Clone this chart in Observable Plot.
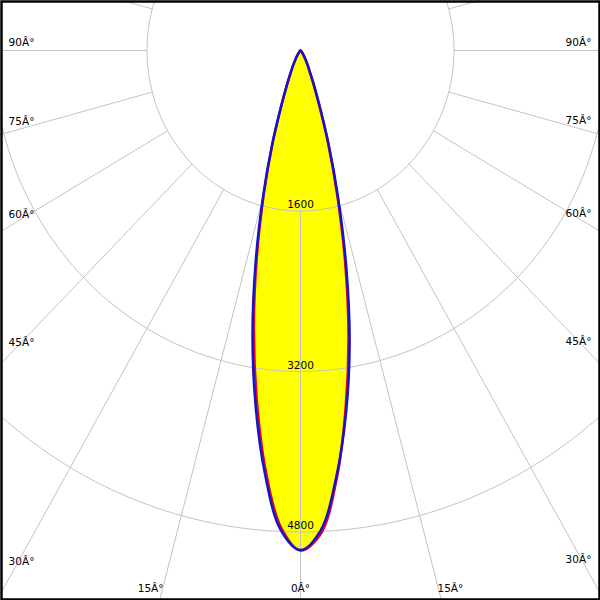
<!DOCTYPE html>
<html>
<head>
<meta charset="utf-8">
<script src="https://cdn.jsdelivr.net/npm/d3@7"></script>
<script src="https://cdn.jsdelivr.net/npm/@observablehq/plot@0.6"></script>
<style>
  html, body { margin: 0; padding: 0; background: white; }
  #chart svg { display: block; }
</style>
</head>
<body>
<div id="chart"></div>
<script>
// ---- data (candela vs. angle from nadir, degrees) ----
const beamAngles = [-50, -45, -40, -35, -30, -27.5, -25, -22.5, -20, -17.5, -15, -12.5, -10, -7.5, -5, -2.5,
                    0, 2.5, 5, 7.5, 10, 12.5, 15, 17.5, 20, 22.5, 25, 27.5, 30, 35, 40, 45, 50];
const blueValues = [0, 8, 25, 58, 115, 170, 245, 370, 590, 985, 1510, 2160, 2880, 3580, 4240, 4780,
                    4980, 4790, 4270, 3640, 2950, 2200, 1510, 960, 560, 345, 220, 160, 110, 55, 25, 8, 0];
const redValues  = [0, 7, 22, 52, 105, 160, 235, 360, 575, 960, 1470, 2100, 2800, 3500, 4190, 4750,
                    4985, 4825, 4300, 3600, 2880, 2140, 1460, 930, 540, 330, 210, 150, 100, 50, 20, 6, 0];
const ringValues = [1600, 3200, 4800];
const spokeAngles = d3.range(0, 360, 15);
const angleLabelValues = [-90, -75, -60, -45, -30, -15, 0, 15, 30, 45, 60, 75, 90];

// ---- geometry helpers (data space: X = I·sinθ, Y = I·cosθ downward) ----
const W = 600, H = 600;
const cx = 300, cy = 50;                    // pole position
const kx = 1600 / 153.5, ky = 1600 / 160.5; // cd per pixel
const rad = d => d * Math.PI / 180;
const toXY = (a, I) => ({X: I * Math.sin(rad(a)), Y: I * Math.cos(rad(a))});

const blue = beamAngles.map((a, i) => toXY(a, blueValues[i]));
const red = beamAngles.map((a, i) => toXY(a, redValues[i]));

const rings = ringValues.flatMap(r => d3.range(0, 361, 2).map(a => ({r, ...toXY(a, r)})));
const spokes = spokeAngles.map(a => {
  const p1 = toXY(a, ringValues[0]), p2 = toXY(a, 12000);
  return {x1: p1.X, y1: p1.Y, x2: p2.X, y2: p2.Y};
});
const ringLabels = ringValues.map(r => ({X: 0, Y: r, text: String(r)}));

const angleLabels = angleLabelValues.map(a => {
  const t = Math.abs(a), s = Math.sign(a) || 0;
  let px, py;
  if (t >= 30) {
    px = s < 0 ? 21 : W - 22;
    const X = (px - cx) * kx;
    const Y = Math.abs(X) / Math.tan(rad(t));
    py = cy + Y / ky + (20.3 - 28.6 * Math.sin(rad(t)));
  } else {
    py = 588;
    const Y = (py - cy) * ky;
    const X = Y * Math.tan(rad(a));
    px = cx + X / kx + s * 12 * Math.sin(rad(t)) / Math.sin(rad(15));
  }
  return {X: (px - cx) * kx, Y: (py - cy) * ky, text: `${t}Â°`};
});

const grid = "#c4c4c4";
const plot = Plot.plot({
  width: W, height: H,
  margin: 0,
  x: {domain: [-cx * kx, (W - cx) * kx], range: [0, W], axis: null},
  y: {domain: [-cy * ky, (H - cy) * ky], range: [0, H], axis: null},
  style: {fontFamily: "DejaVu Sans, sans-serif", fontSize: "10.5px", background: "white"},
  marks: [
    Plot.line(blue, {x: "X", y: "Y", fill: "#ffff00", stroke: "none", curve: "catmull-rom"}),
    Plot.line(rings, {x: "X", y: "Y", z: "r", stroke: grid, strokeWidth: 1, clip: true}),
    Plot.link(spokes, {x1: "x1", y1: "y1", x2: "x2", y2: "y2", stroke: grid, strokeWidth: 1, clip: true}),
    Plot.line(red, {x: "X", y: "Y", stroke: "#e8002a", strokeWidth: 2.5, curve: "catmull-rom"}),
    Plot.line(blue, {x: "X", y: "Y", stroke: "#1414c8", strokeWidth: 2.5, curve: "catmull-rom"}),
    Plot.text(ringLabels, {x: "X", y: "Y", text: "text", dy: -6, fill: "black", textAnchor: "middle"}),
    Plot.text(angleLabels, {x: "X", y: "Y", text: "text", fill: "black", textAnchor: "middle"}),
    Plot.frame({stroke: "black", strokeWidth: 2.5, inset: 1})
  ]
});
document.getElementById("chart").append(plot);
</script>
</body>
</html>
